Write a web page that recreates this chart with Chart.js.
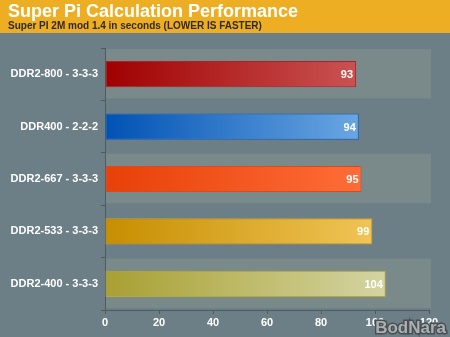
<!DOCTYPE html>
<html>
<head>
<meta charset="utf-8">
<script src="https://cdn.jsdelivr.net/npm/chart.js@4/dist/chart.umd.min.js"></script>
<style>
html,body{margin:0;padding:0;background:#6d7f86;}
canvas{display:block;}
</style>
</head>
<body>
<canvas id="c" width="450" height="337"></canvas>
<script>
const categories = ["DDR2-800 - 3-3-3", "DDR400 - 2-2-2", "DDR2-667 - 3-3-3", "DDR2-533 - 3-3-3", "DDR2-400 - 3-3-3"];
const values = [93, 94, 95, 99, 104];
const xTicks = [0, 20, 40, 60, 80, 100, 120];
const gradStart = ["#a00000", "#0052b4", "#e84008", "#c68e00", "#a8a032"];
const gradEnd   = ["#ca5252", "#6aa6e2", "#ff6c38", "#f0c456", "#d4d4a2"];
const borders   = ["#b02020", "#1060c8", "#e04a10", "#d8a010", "#b4aa3a"];

const FONT = "'Liberation Sans', Arial, sans-serif";

const bgPlugin = {
  id: 'bg',
  beforeDraw(chart) {
    const {ctx, width, height} = chart;
    ctx.save();
    ctx.fillStyle = '#6d7f86';
    ctx.fillRect(0, 0, width, height);
    ctx.fillStyle = '#eeae24';
    ctx.fillRect(0, 0, width, 33);
    ctx.restore();
  },
  beforeDatasetsDraw(chart) {
    const {ctx, chartArea} = chart;
    const y = chart.scales.y;
    ctx.save();
    ctx.fillStyle = '#7a8a8b';
    const n = categories.length;
    const h = (chartArea.bottom - chartArea.top) / n;
    for (let i = 0; i < n; i += 2) {
      const c = y.getPixelForValue(i);
      ctx.fillRect(chartArea.left + 1, c - h / 2 + 1, chartArea.right - chartArea.left + 1, h - 3);
    }
    ctx.restore();
  },
  afterDatasetsDraw(chart) {
    const {ctx} = chart;
    const meta = chart.getDatasetMeta(0);
    ctx.save();
    ctx.fillStyle = '#ffffff';
    ctx.font = 'bold 11px ' + FONT;
    ctx.textAlign = 'right';
    ctx.textBaseline = 'middle';
    meta.data.forEach((bar, i) => {
      ctx.fillText(String(values[i]), bar.x - 3, bar.y + 1);
    });
    ctx.restore();
  },
  afterDraw(chart) {
    const {ctx} = chart;
    ctx.save();
    ctx.font = 'bold 17px ' + FONT;
    ctx.textAlign = 'right';
    ctx.textBaseline = 'alphabetic';
    ctx.lineWidth = 3;
    ctx.strokeStyle = '#4a4f52';
    ctx.strokeText('BodNara', 446, 333);
    ctx.fillStyle = '#a9b0b3';
    ctx.fillText('BodNara', 446, 333);
    ctx.restore();
  }
};

new Chart(document.getElementById('c'), {
  type: 'bar',
  data: {
    labels: categories,
    datasets: [{
      data: values,
      backgroundColor(context) {
        const chart = context.chart;
        const area = chart.chartArea;
        const i = context.dataIndex;
        if (!area) return gradStart[i];
        const x0 = chart.scales.x.getPixelForValue(0);
        const x1 = chart.scales.x.getPixelForValue(values[i]);
        const g = chart.ctx.createLinearGradient(x0, 0, x1, 0);
        g.addColorStop(0, gradStart[i]);
        g.addColorStop(1, gradEnd[i]);
        return g;
      },
      borderColor: borders,
      borderWidth: 1,
      borderSkipped: false,
      categoryPercentage: 1,
      barPercentage: 0.5
    }]
  },
  options: {
    indexAxis: 'y',
    responsive: false,
    animation: false,
    layout: { padding: { left: 8, right: 21, top: 0, bottom: 0 } },
    plugins: {
      legend: { display: false },
      tooltip: { enabled: false },
      title: {
        display: true,
        text: 'Super Pi Calculation Performance',
        align: 'start',
        color: '#ffffff',
        font: { family: FONT, size: 18, weight: 'bold', lineHeight: 1.0 },
        padding: { top: 3, bottom: 0 }
      },
      subtitle: {
        display: true,
        text: 'Super PI 2M mod 1.4 in seconds (LOWER IS FASTER)',
        align: 'start',
        color: '#2e2a22',
        font: { family: FONT, size: 10, weight: 'bold', lineHeight: 1.0 },
        padding: { top: 0, bottom: 17 }
      }
    },
    scales: {
      x: {
        min: 0,
        max: 120,
        afterFit(scale) { scale.height = 27; },
        afterBuildTicks(scale) { scale.ticks = xTicks.map(v => ({ value: v })); },
        border: { display: true, color: '#4e5a5e', width: 1 },
        grid: { display: true, drawOnChartArea: false, drawTicks: true, tickLength: 4, color: '#4e5a5e' },
        ticks: { color: '#ffffff', padding: 2, font: { family: FONT, size: 11, weight: 'bold' } }
      },
      y: {
        afterFit(scale) { scale.width = 97; },
        border: { display: true, color: '#4e5a5e', width: 1 },
        grid: { display: true, offset: true, drawOnChartArea: false, drawTicks: true, tickLength: 4, color: '#4e5a5e' },
        ticks: { color: '#ffffff', padding: 3, font: { family: FONT, size: 11, weight: 'bold' } }
      }
    }
  },
  plugins: [bgPlugin]
});
</script>
</body>
</html>
